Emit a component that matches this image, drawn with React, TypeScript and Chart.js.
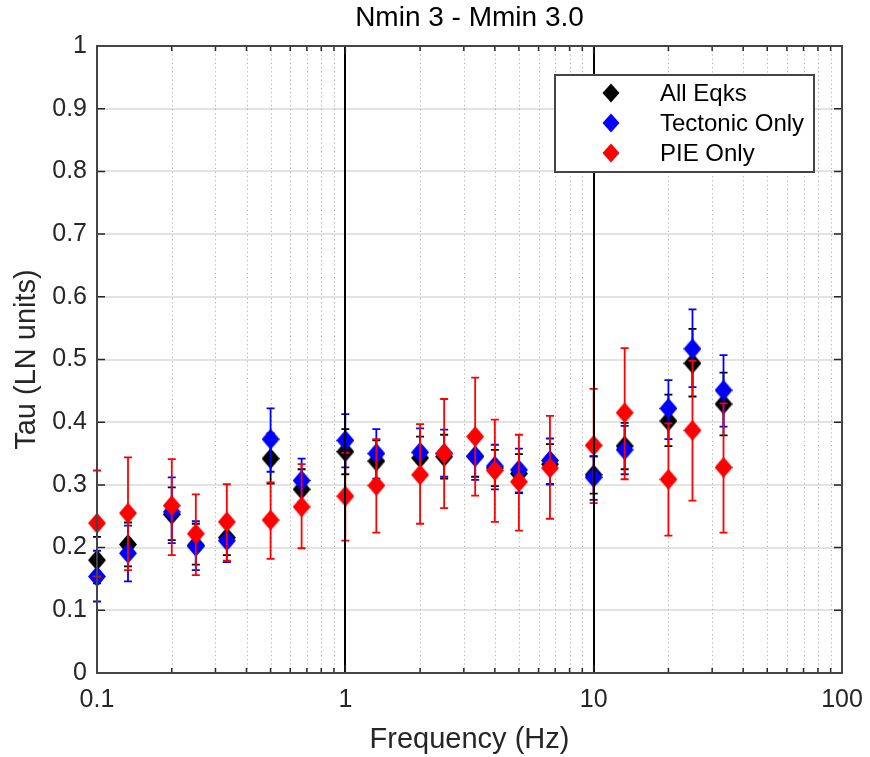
import React, { useEffect, useRef } from "react";
import { Chart, registerables } from "chart.js";
Chart.register(...registerables);

// ---------------- data ----------------
const frequencies = [0.1, 0.1333, 0.2, 0.25, 0.3333, 0.5, 0.6667, 1, 1.333, 2, 2.5, 3.333, 4, 5, 6.667, 10, 13.33, 20, 25, 33.33];

const allEqks = [0.180, 0.205, 0.253, 0.204, 0.216, 0.342, 0.293, 0.353, 0.338, 0.343, 0.345, 0.346, 0.327, 0.318, 0.333, 0.316, 0.362, 0.402, 0.494, 0.429];
const allEqksLo = [0.143, 0.170, 0.212, 0.173, 0.188, 0.302, 0.262, 0.317, 0.305, 0.309, 0.310, 0.313, 0.298, 0.287, 0.301, 0.286, 0.325, 0.362, 0.441, 0.379];
const allEqksHi = [0.217, 0.240, 0.296, 0.238, 0.245, 0.382, 0.325, 0.389, 0.371, 0.377, 0.380, 0.380, 0.356, 0.349, 0.365, 0.346, 0.399, 0.444, 0.549, 0.479];

const tectonic = [0.154, 0.191, 0.257, 0.202, 0.211, 0.373, 0.307, 0.371, 0.350, 0.352, 0.350, 0.345, 0.330, 0.324, 0.339, 0.312, 0.356, 0.422, 0.517, 0.451];
const tectonicLo = [0.114, 0.146, 0.207, 0.164, 0.177, 0.321, 0.273, 0.328, 0.310, 0.313, 0.313, 0.308, 0.293, 0.288, 0.301, 0.276, 0.317, 0.373, 0.456, 0.393];
const tectonicHi = [0.195, 0.235, 0.312, 0.242, 0.247, 0.422, 0.342, 0.413, 0.389, 0.390, 0.388, 0.384, 0.364, 0.358, 0.374, 0.345, 0.394, 0.467, 0.580, 0.507];

const pie = [0.239, 0.255, 0.267, 0.222, 0.241, 0.244, 0.265, 0.282, 0.299, 0.316, 0.350, 0.377, 0.323, 0.305, 0.327, 0.363, 0.415, 0.309, 0.387, 0.328];
const pieLo = [0.154, 0.164, 0.188, 0.156, 0.179, 0.182, 0.199, 0.211, 0.224, 0.238, 0.263, 0.283, 0.241, 0.227, 0.246, 0.271, 0.309, 0.219, 0.275, 0.224];
const pieHi = [0.323, 0.344, 0.341, 0.285, 0.301, 0.304, 0.333, 0.351, 0.373, 0.397, 0.437, 0.471, 0.404, 0.380, 0.410, 0.453, 0.518, 0.398, 0.498, 0.430];

const seriesLabels = ["All Eqks", "Tectonic Only", "PIE Only"];
const seriesColors = ["#000000", "#0000ff", "#ff0000"];

const xTickValues = [0.1, 1, 10, 100];
const xTickLabels = ["0.1", "1", "10", "100"];
const xMinorValues = [0.2, 0.3, 0.4, 0.5, 0.6, 0.7, 0.8, 0.9, 2, 3, 4, 5, 6, 7, 8, 9, 20, 30, 40, 50, 60, 70, 80, 90];
const xMajorLines = [1, 10];
const yTickValues = [0, 0.1, 0.2, 0.3, 0.4, 0.5, 0.6, 0.7, 0.8, 0.9, 1];
const yTickLabels = ["0", "0.1", "0.2", "0.3", "0.4", "0.5", "0.6", "0.7", "0.8", "0.9", "1"];

const FONT = "'Liberation Sans', Arial, Helvetica, sans-serif";
const AXIS_COLOR = "#262626";

function makeDiamond(color: string) {
  const c = document.createElement("canvas");
  c.width = 18;
  c.height = 21;
  const g = c.getContext("2d")!;
  g.fillStyle = color;
  g.beginPath();
  g.moveTo(9, 0);
  g.lineTo(18, 10.5);
  g.lineTo(9, 21);
  g.lineTo(0, 10.5);
  g.closePath();
  g.fill();
  return c;
}

const matlabPlugin = {
  id: "matlabLook",
  beforeDatasetsDraw(chart: any) {
    const { ctx, chartArea: a, scales } = chart;
    const x = scales.x, y = scales.y;
    ctx.save();
    ctx.strokeStyle = "#e3e3e3";
    ctx.lineWidth = 2;
    yTickValues.forEach((v) => {
      if (v <= 0 || v >= 1) return;
      const py = Math.round(y.getPixelForValue(v));
      ctx.beginPath();
      ctx.moveTo(a.left, py);
      ctx.lineTo(a.right, py);
      ctx.stroke();
    });
    ctx.strokeStyle = "#b0b0b0";
    ctx.lineWidth = 1;
    ctx.setLineDash([1.2, 3]);
    xMinorValues.forEach((v) => {
      const px = Math.round(x.getPixelForValue(v)) + 0.5;
      ctx.beginPath();
      ctx.moveTo(px, a.top);
      ctx.lineTo(px, a.bottom);
      ctx.stroke();
    });
    ctx.restore();
  },
  beforeDatasetDraw(chart: any, args: any) {
    const ds = chart.data.datasets[args.index];
    const { ctx, scales } = chart;
    const x = scales.x, y = scales.y;
    ctx.save();
    ctx.strokeStyle = ds.errColor;
    ctx.lineWidth = 1.8;
    ds.data.forEach((pt: any, i: number) => {
      const px = x.getPixelForValue(pt.x);
      const yl = y.getPixelForValue(ds.errLo[i]);
      const yh = y.getPixelForValue(ds.errHi[i]);
      ctx.beginPath();
      ctx.moveTo(px, yl);
      ctx.lineTo(px, yh);
      ctx.moveTo(px - 4, yl);
      ctx.lineTo(px + 4, yl);
      ctx.moveTo(px - 4, yh);
      ctx.lineTo(px + 4, yh);
      ctx.stroke();
    });
    ctx.restore();
  },
  afterDatasetsDraw(chart: any) {
    const { ctx, chartArea: a, scales } = chart;
    const x = scales.x, y = scales.y;
    ctx.save();
    ctx.strokeStyle = "#000000";
    ctx.lineWidth = 2;
    xMajorLines.forEach((v) => {
      const px = Math.round(x.getPixelForValue(v));
      ctx.beginPath();
      ctx.moveTo(px, a.top);
      ctx.lineTo(px, a.bottom);
      ctx.stroke();
    });
    ctx.strokeStyle = AXIS_COLOR;
    ctx.lineWidth = 1.5;
    yTickValues.forEach((v) => {
      const py = y.getPixelForValue(v);
      ctx.beginPath();
      ctx.moveTo(a.left, py);
      ctx.lineTo(a.left + 8, py);
      ctx.moveTo(a.right, py);
      ctx.lineTo(a.right - 8, py);
      ctx.stroke();
    });
    xMinorValues.forEach((v) => {
      const px = x.getPixelForValue(v);
      ctx.beginPath();
      ctx.moveTo(px, a.bottom);
      ctx.lineTo(px, a.bottom - 5);
      ctx.moveTo(px, a.top);
      ctx.lineTo(px, a.top + 5);
      ctx.stroke();
    });
    xTickValues.forEach((v) => {
      const px = x.getPixelForValue(v);
      ctx.beginPath();
      ctx.moveTo(px, a.bottom);
      ctx.lineTo(px, a.bottom - 8);
      ctx.moveTo(px, a.top);
      ctx.lineTo(px, a.top + 8);
      ctx.stroke();
    });
    ctx.strokeStyle = "#444444";
    ctx.lineWidth = 2;
    ctx.strokeRect(a.left, a.top, a.right - a.left, a.bottom - a.top);

    // legend
    const bx = a.right - 287, by = a.top + 29, bw = 259, bh = 97;
    ctx.fillStyle = "#ffffff";
    ctx.fillRect(bx, by, bw, bh);
    ctx.strokeStyle = "#444444";
    ctx.lineWidth = 2;
    ctx.strokeRect(bx, by, bw, bh);
    ctx.font = `24px ${FONT}`;
    ctx.textBaseline = "middle";
    ctx.textAlign = "left";
    seriesLabels.forEach((lab, i) => {
      const cy = by + 18 + i * 30;
      const cx = bx + 56;
      ctx.fillStyle = seriesColors[i];
      ctx.beginPath();
      ctx.moveTo(cx, cy - 9.5);
      ctx.lineTo(cx + 8.5, cy);
      ctx.lineTo(cx, cy + 9.5);
      ctx.lineTo(cx - 8.5, cy);
      ctx.closePath();
      ctx.fill();
      ctx.fillStyle = "#000000";
      ctx.fillText(lab, bx + 105, cy + 1);
    });
    ctx.restore();
  },
};

export default function App() {
  const ref = useRef<HTMLCanvasElement>(null);
  useEffect(() => {
    const mk = (vals: number[]) => vals.map((v, i) => ({ x: frequencies[i], y: v }));
    const values = [allEqks, tectonic, pie];
    const los = [allEqksLo, tectonicLo, pieLo];
    const his = [allEqksHi, tectonicHi, pieHi];
    const datasets: any[] = values.map((vals, k) => ({
      label: seriesLabels[k],
      data: mk(vals),
      errLo: los[k],
      errHi: his[k],
      errColor: seriesColors[k],
      pointStyle: makeDiamond(seriesColors[k]),
      pointRadius: 10,
      backgroundColor: seriesColors[k],
      borderColor: seriesColors[k],
      showLine: false,
      clip: false,
      order: 3 - k,
    }));
    const chart = new Chart(ref.current!, {
      type: "scatter",
      data: { datasets },
      options: {
        animation: false,
        responsive: true,
        maintainAspectRatio: false,
        events: [],
        layout: { padding: { left: 0, right: 28, top: 0, bottom: 0 } },
        plugins: {
          legend: { display: false },
          tooltip: { enabled: false },
          title: {
            display: true,
            fullSize: false,
            text: "Nmin 3 - Mmin 3.0",
            color: "#000000",
            font: { family: FONT, size: 28, weight: "normal" as any },
            padding: { top: 1.7, bottom: 10.7 },
          },
        },
        scales: {
          x: {
            type: "logarithmic",
            position: "bottom",
            min: 0.1,
            max: 100,
            afterBuildTicks: (s: any) => {
              s.ticks = xTickValues.map((v) => ({ value: v }));
            },
            afterFit: (s: any) => {
              s.height = 84;
              s.paddingLeft = 0;
              s.paddingRight = 0;
            },
            ticks: {
              autoSkip: false,
              maxRotation: 0,
              minRotation: 0,
              padding: 12,
              color: AXIS_COLOR,
              font: { family: FONT, size: 25 },
              callback: (_v: any, i: number) => xTickLabels[i],
            },
            grid: { display: false, drawTicks: false },
            border: { display: false },
            title: {
              display: true,
              text: "Frequency (Hz)",
              color: AXIS_COLOR,
              font: { family: FONT, size: 29 },
              padding: { top: 0, bottom: 0 },
            },
          },
          y: {
            type: "linear",
            position: "left",
            min: 0,
            max: 1,
            afterBuildTicks: (s: any) => {
              s.ticks = yTickValues.map((v) => ({ value: v }));
            },
            afterFit: (s: any) => {
              s.width = 97;
              s.paddingTop = 0;
              s.paddingBottom = 0;
            },
            ticks: {
              padding: 10,
              color: AXIS_COLOR,
              font: { family: FONT, size: 25 },
              callback: (_v: any, i: number) => yTickLabels[i],
            },
            grid: { display: false, drawTicks: false },
            border: { display: false },
            title: {
              display: true,
              text: "Tau (LN units)",
              color: AXIS_COLOR,
              font: { family: FONT, size: 29 },
              padding: { top: 10, bottom: 0 },
            },
          },
        },
      } as any,
      plugins: [matlabPlugin as any],
    });
    return () => chart.destroy();
  }, []);
  return (
    <div style={{ position: "fixed", left: 0, top: 0, width: 870, height: 757, background: "#ffffff" }}>
      <canvas ref={ref} />
    </div>
  );
}
